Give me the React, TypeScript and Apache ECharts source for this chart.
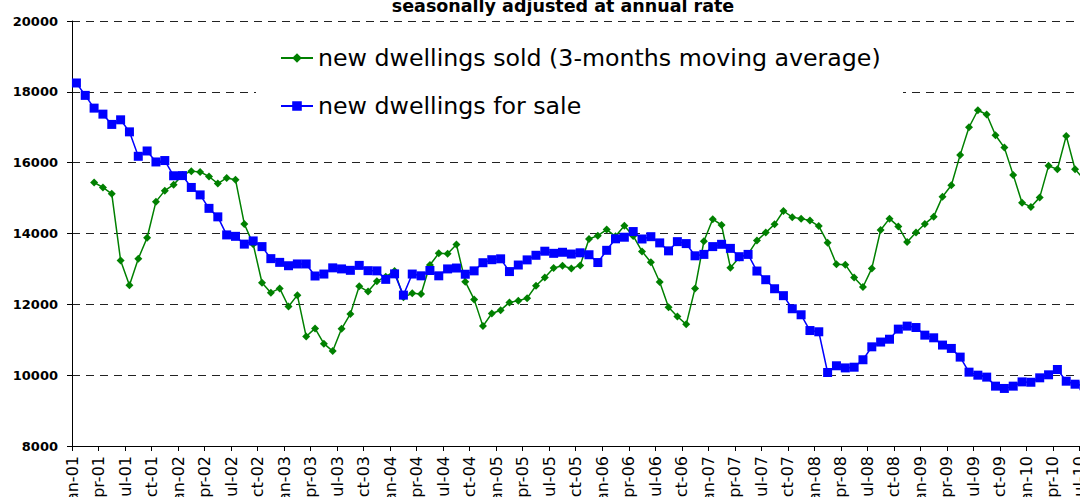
import React, { useEffect, useRef } from "react";
import * as echarts from "echarts";

// x tick labels, one every 3 months starting Jan-01
const tickLabels = [
  "Jan-01", "Apr-01", "Jul-01", "Oct-01",
  "Jan-02", "Apr-02", "Jul-02", "Oct-02",
  "Jan-03", "Apr-03", "Jul-03", "Oct-03",
  "Jan-04", "Apr-04", "Jul-04", "Oct-04",
  "Jan-05", "Apr-05", "Jul-05", "Oct-05",
  "Jan-06", "Apr-06", "Jul-06", "Oct-06",
  "Jan-07", "Apr-07", "Jul-07", "Oct-07",
  "Jan-08", "Apr-08", "Jul-08", "Oct-08",
  "Jan-09", "Apr-09", "Jul-09", "Oct-09",
  "Jan-10", "Apr-10", "Jul-10", "Oct-10",
];

// new dwellings sold, 3-month moving average (monthly from Jan-01)
const dwellingsSold: (number | null)[] = [
  null, null, 15440, 15300, 15120, 13240, 12540, 13290, 13880, 14900, 15210, 15380,
  15650, 15760, 15740, 15610, 15410, 15570, 15520, 14270, 13700, 12610, 12330, 12450,
  11940, 12260, 11090, 11320, 10890, 10680, 11310, 11730, 12510, 12360, 12650, 12780,
  12940, 12200, 12310, 12290, 13110, 13440, 13430, 13690, 12640, 12140, 11385, 11740,
  11835, 12055, 12100, 12175, 12525, 12760, 13025, 13090, 13010, 13100, 13845, 13940,
  14110, 13920, 14220, 13930, 13495, 13190, 12630, 11915, 11655, 11435, 12450, 13780,
  14405, 14240, 13035, 13320, 13420, 13800, 14025, 14260, 14635, 14460, 14420, 14365,
  14210, 13740, 13130, 13120, 12760, 12490, 13015, 14100, 14420, 14200, 13760, 14030,
  14270, 14475, 15040, 15360, 16220, 17000, 17480, 17360, 16775, 16425, 15655, 14870,
  14750, 15020, 15910, 15815, 16755, 15815, 15530,
];

// new dwellings for sale (monthly from Jan-01)
const dwellingsForSale: number[] = [
  18250, 17900, 17540, 17370, 17080, 17210, 16870, 16180, 16330, 16020, 16060, 15630,
  15635, 15300, 15090, 14710, 14470, 13960, 13920, 13700, 13790, 13630, 13290, 13185,
  13090, 13140, 13140, 12800, 12855, 13030, 13000, 12960, 13100, 12950, 12945, 12705,
  12860, 12260, 12855, 12805, 12955, 12805, 13000, 13025, 12850, 12945, 13175, 13260,
  13285, 12925, 13110, 13255, 13385, 13500, 13440, 13470, 13420, 13455, 13400, 13180,
  13525, 13850, 13895, 14055, 13845, 13910, 13735, 13510, 13770, 13715, 13370, 13410,
  13630, 13695, 13580, 13345, 13410, 12940, 12695, 12440, 12245, 11875, 11705, 11260,
  11225, 10075, 10265, 10205, 10225, 10435, 10800, 10935, 11015, 11300, 11385, 11345,
  11130, 11055, 10850, 10755, 10510, 10085, 10000, 9945, 9690, 9625, 9690, 9810,
  9800, 9925, 10010, 10160, 9830, 9745, 9700,
];

const yTicks = { min: 8000, max: 20000, step: 2000 };

const FONT = "DejaVu Sans";

export default function App() {
  const ref = useRef<HTMLDivElement>(null);

  useEffect(() => {
    if (!ref.current) return;
    const chart = echarts.init(ref.current, null, { renderer: "svg" });

    const soldData = dwellingsSold
      .map((v, i) => [i + 0.5, v])
      .filter((d) => d[1] != null);
    const saleData = dwellingsForSale.map((v, i) => [i + 0.5, v]);

    chart.setOption({
      animation: false,
      backgroundColor: "#ffffff",
      grid: {
        left: 72,
        top: 21,
        width: 1034,
        height: 425,
        containLabel: false,
        outerBoundsMode: "none",
      },
      graphic: [
        {
          type: "rect",
          z: 1,
          shape: { x: 256, y: 30, width: 647, height: 105 },
          style: { fill: "#ffffff" },
        },
        {
          type: "text",
          x: 563,
          y: 6,
          z: 5,
          style: {
            text: "seasonally adjusted at annual rate",
            fontFamily: FONT,
            fontWeight: "bold",
            fontSize: 17.5,
            fill: "#000",
            textAlign: "center",
            textVerticalAlign: "middle",
          },
        },
      ],
      legend: {
        orient: "vertical",
        left: 280,
        top: 46,
        padding: 0,
        itemGap: 24,
        itemWidth: 32,
        itemHeight: 12,
        z: 6,
        textStyle: {
          fontFamily: FONT,
          fontSize: 23.7,
          lineHeight: 24,
          color: "#000",
        },
        data: ["new dwellings sold (3-months moving average)", "new dwellings for sale"],
      },
      xAxis: {
        type: "value",
        min: 0,
        max: 117,
        interval: 3,
        axisLine: { show: true, lineStyle: { color: "#000", width: 1 } },
        axisTick: { show: true, length: 5, lineStyle: { color: "#000" } },
        splitLine: { show: false },
        axisLabel: {
          rotate: 90,
          margin: 10,
          fontFamily: FONT,
          fontSize: 16,
          color: "#000",
          formatter: (v: number) => tickLabels[Math.round(v / 3)] ?? "",
        },
      },
      yAxis: {
        type: "value",
        min: yTicks.min,
        max: yTicks.max,
        interval: yTicks.step,
        axisLine: { show: true, lineStyle: { color: "#000", width: 1 } },
        axisTick: { show: true, length: 5, lineStyle: { color: "#000" } },
        axisLabel: {
          margin: 14,
          fontFamily: FONT,
          fontWeight: "bold",
          fontSize: 13,
          color: "#000",
          formatter: (v: number) => String(v),
        },
        splitLine: {
          show: true,
          lineStyle: { color: "#222", type: [8, 6], width: 1 },
        },
      },
      series: [
        {
          name: "new dwellings sold (3-months moving average)",
          type: "line",
          data: soldData,
          symbol: "diamond",
          symbolSize: 8,
          z: 2,
          lineStyle: { color: "#008000", width: 1.5 },
          itemStyle: { color: "#008000" },
        },
        {
          name: "new dwellings for sale",
          type: "line",
          data: saleData,
          symbol: "rect",
          symbolSize: 9,
          z: 3,
          lineStyle: { color: "#0000ff", width: 1.5 },
          itemStyle: { color: "#0000ff" },
        },
      ],
    });

    return () => chart.dispose();
  }, []);

  return (
    <div
      style={{
        position: "fixed",
        left: 0,
        top: 0,
        width: 1080,
        height: 497,
        overflow: "hidden",
        background: "#fff",
      }}
    >
      <div ref={ref} style={{ width: 1140, height: 497 }} />
    </div>
  );
}
